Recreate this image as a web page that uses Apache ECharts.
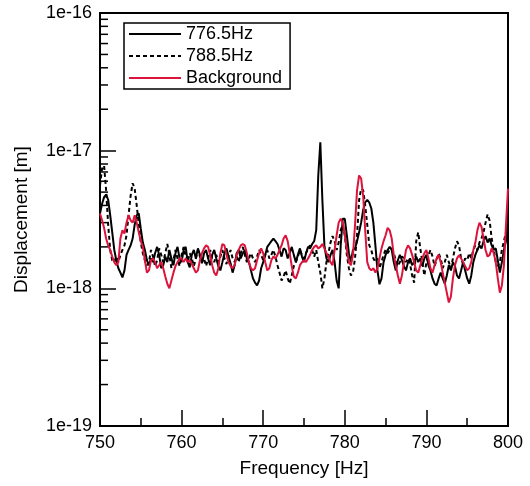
<!DOCTYPE html>
<html><head><meta charset="utf-8">
<script src="https://cdn.jsdelivr.net/npm/echarts@6/dist/echarts.min.js"></script>
<style>html,body{margin:0;padding:0;background:#fff}#c{width:530px;height:486px}</style>
</head><body><div id="c"></div>
<script>
// Frequency grid (Hz), 0.25 Hz spacing from 750 to 800
const F_START = 750, F_STEP = 0.25, F_COUNT = 201;
// Values in units of 1e-18 m
const UNIT = 1e-18;
const names = ['776.5Hz', '788.5Hz', 'Background'];
const sig776 = [
3.5,4.1,4.6,4.8,4.4,3.4,2.55,1.9,
1.6,1.4,1.3,1.2,1.35,1.75,1.9,2.05,
2.3,2.9,3.4,3.5,2.7,2.15,1.9,1.6,
1.47,1.65,1.55,1.8,2.0,1.75,1.4,1.47,
1.7,1.55,1.9,1.65,1.47,1.8,2.0,1.65,
1.55,1.9,2.0,1.55,1.42,1.75,1.9,1.65,
1.95,1.75,1.52,1.8,1.9,1.65,1.47,1.75,
1.9,1.65,1.45,1.35,1.55,1.8,1.95,1.7,
1.52,1.3,1.47,1.8,1.9,1.65,1.8,1.9,
1.65,1.55,1.35,1.18,1.1,1.05,1.14,1.4,
1.55,1.75,2.0,2.1,2.2,2.3,2.2,2.1,
1.9,1.7,1.95,1.9,1.65,1.8,2.0,1.75,
1.55,1.75,1.95,1.7,1.55,1.8,2.0,1.95,
2.1,2.2,2.65,6.6,11.5,4.4,2.05,1.65,
1.55,1.75,1.9,1.55,1.14,1.0,2.05,3.2,
3.2,2.43,1.8,1.55,1.9,1.95,2.2,2.55,
3.0,3.7,4.2,4.4,4.2,3.8,3.0,2.05,
1.35,1.07,1.18,1.55,1.75,1.9,2.0,1.9,
1.55,1.35,1.6,1.75,1.6,1.45,1.35,1.55,
1.65,1.47,1.55,1.7,1.55,1.65,1.45,1.65,
1.75,1.47,1.35,1.18,1.08,1.05,1.18,1.3,
1.18,1.08,1.24,1.47,1.35,1.55,1.45,1.24,
1.18,1.35,1.55,1.35,1.18,1.08,1.24,1.55,
1.75,1.9,2.05,1.95,2.2,2.4,2.15,2.3,
2.05,1.9,1.95,1.6,1.3,1.55,1.9,2.2,
3.3];
const sig788 = [
5.6,7.4,7.8,5.15,2.9,1.9,1.6,1.55,
1.7,1.55,1.75,1.9,2.05,2.43,3.4,4.7,
5.8,5.3,4.0,2.9,2.15,1.8,1.6,1.47,
1.55,1.9,1.7,1.45,1.6,1.95,1.75,1.55,
1.8,2.1,1.75,1.4,1.6,1.9,1.65,1.45,
1.75,2.0,1.7,1.55,1.8,1.65,1.45,1.65,
1.9,1.7,1.55,1.65,1.45,1.65,1.9,1.65,
1.55,1.75,1.55,1.7,1.9,1.65,1.5,1.7,
1.9,1.65,1.55,1.7,1.55,1.8,2.0,1.75,
1.55,1.65,1.8,1.65,1.55,1.7,1.9,1.75,
1.6,1.75,1.9,1.65,1.75,1.9,1.7,1.47,
1.3,1.14,1.22,1.35,1.18,1.08,1.24,1.45,
1.55,1.7,1.9,1.75,1.65,1.8,1.95,2.05,
1.9,1.7,1.9,1.55,1.3,1.0,1.18,1.55,
1.8,2.15,2.4,2.2,1.9,2.15,2.65,2.9,
2.43,1.75,1.4,1.24,1.3,1.65,2.43,4.36,
5.3,5.15,4.0,2.9,2.05,1.9,1.65,1.55,
1.65,1.4,1.55,1.75,1.9,1.8,1.9,1.95,
1.8,1.6,1.45,1.55,1.7,1.65,1.55,1.65,
1.5,1.24,1.1,2.2,2.55,1.95,1.55,1.24,
1.55,1.75,1.9,1.7,1.45,1.6,1.8,1.65,
1.4,1.55,1.75,1.55,1.4,1.65,1.95,2.2,
2.05,1.65,1.5,1.65,1.6,1.8,1.65,1.9,
2.05,1.9,2.15,2.3,2.55,3.0,3.45,3.1,
2.3,1.9,1.55,1.45,1.55,1.9,2.2,2.55,
2.43];
const background = [
3.5,3.12,2.75,2.3,2.05,1.9,1.7,1.55,
1.47,1.55,2.3,2.64,2.5,3.0,3.4,3.12,
3.0,3.4,3.0,2.55,2.2,2.0,1.6,1.3,
1.35,1.6,1.65,1.55,1.4,1.47,1.55,1.4,
1.22,1.08,1.0,1.14,1.3,1.45,1.55,1.65,
1.65,1.55,1.65,1.55,1.6,1.5,1.4,1.3,
1.35,1.6,1.8,1.95,2.05,2.0,1.75,1.47,
1.3,1.24,1.4,1.8,2.1,2.05,1.75,1.55,
1.45,1.4,1.47,1.75,1.9,2.05,2.1,2.05,
1.8,1.55,1.4,1.35,1.4,1.6,1.8,1.95,
1.8,1.55,1.35,1.4,1.6,1.7,1.65,1.75,
1.9,2.05,2.3,2.43,2.2,1.8,1.45,1.22,
1.18,1.3,1.47,1.55,1.6,1.55,1.65,1.75,
1.9,2.0,2.05,1.95,2.0,2.1,1.95,1.8,
1.7,1.55,1.47,1.9,2.43,3.0,3.2,3.0,
2.43,1.9,1.55,1.47,1.75,2.87,5.15,6.6,
6.3,4.7,2.64,1.55,1.4,1.35,1.4,1.3,
1.4,1.65,1.95,2.2,2.43,2.75,2.64,2.3,
1.75,1.47,1.24,1.08,1.24,1.55,1.9,2.05,
1.95,1.75,1.55,1.35,1.3,1.47,1.65,1.8,
1.9,1.65,1.4,1.3,1.47,1.65,1.75,1.55,
1.3,1.1,0.93,0.79,0.87,1.18,1.47,1.65,
1.74,1.65,1.55,1.45,1.35,1.4,1.55,1.9,
2.15,2.64,3.0,2.8,2.3,1.9,1.7,1.75,
1.95,1.8,1.55,1.18,0.93,1.05,1.47,2.87,
5.3];
const xTicks = [750, 760, 770, 780, 790, 800];
const yDecades = [-19, -18, -17, -16];

const FONT = "'Liberation Sans', Arial, Helvetica, sans-serif";
const freq = [];
for (let i = 0; i < F_COUNT; i++) freq.push(F_START + F_STEP * i);
const toPairs = arr => arr.map((v, i) => [freq[i], v * UNIT]);

// minor log ticks 2..9 in each decade
const minorTickVals = [];
for (let d = 0; d < yDecades.length - 1; d++) {
  for (let m = 2; m <= 9; m++) minorTickVals.push([F_START, m * Math.pow(10, yDecades[d])]);
}

const chart = echarts.init(document.getElementById('c'), null, {renderer: 'canvas'});
const lineW = 2;
chart.setOption({
  animation: false,
  backgroundColor: '#fff',
  textStyle: {fontFamily: FONT},
  grid: {left: 100, top: 13, width: 408, height: 413, show: true, borderColor: '#000', borderWidth: 2, backgroundColor: 'transparent'},
  legend: {
    data: names, orient: 'vertical', left: 124, top: 23,
    itemWidth: 52, itemHeight: 14, itemGap: 4,
    itemStyle: {opacity: 0},
    borderColor: '#000', borderWidth: 1.5, padding: [2, 8, 2, 4],
    textStyle: {fontSize: 18, color: '#000', fontFamily: FONT},
    backgroundColor: '#fff'
  },
  xAxis: {
    type: 'value', min: xTicks[0], max: xTicks[xTicks.length - 1], interval: 10,
    name: 'Frequency [Hz]', nameLocation: 'middle', nameGap: 33,
    nameTextStyle: {fontSize: 19, color: '#000', fontFamily: FONT},
    axisLine: {show: true, onZero: false, lineStyle: {color: '#000', width: 2}},
    axisTick: {show: true, inside: true, length: 16, lineStyle: {color: '#000', width: 1.5}},
    minorTick: {show: true, splitNumber: 2, length: 8, lineStyle: {color: '#000', width: 1.5}},
    axisLabel: {fontSize: 18, color: '#000', margin: 8, fontFamily: FONT},
    splitLine: {show: false}
  },
  yAxis: {
    type: 'log', logBase: 10, min: Math.pow(10, yDecades[0]), max: Math.pow(10, yDecades[yDecades.length - 1]),
    splitNumber: 3,
    name: 'Displacement [m]', nameLocation: 'middle', nameGap: 69, nameRotate: 90,
    nameTextStyle: {fontSize: 19, color: '#000', fontFamily: FONT},
    axisLine: {show: true, lineStyle: {color: '#000', width: 2}},
    axisTick: {show: true, inside: true, length: 16, lineStyle: {color: '#000', width: 1.5}},
    axisLabel: {fontSize: 18, color: '#000', margin: 8, fontFamily: FONT,
      formatter: v => '1e' + Math.round(Math.log10(v))},
    splitLine: {show: false}
  },
  series: [
    {name: names[0], type: 'line', data: toPairs(sig776), symbol: 'none', showSymbol: false,
     lineStyle: {color: '#000', width: lineW}, itemStyle: {color: '#000'}},
    {name: names[1], type: 'line', data: toPairs(sig788), symbol: 'none', showSymbol: false,
     lineStyle: {color: '#000', width: lineW, type: [4, 3]}, itemStyle: {color: '#000'}},
    {name: names[2], type: 'line', data: toPairs(background), symbol: 'none', showSymbol: false,
     lineStyle: {color: '#dc143c', width: lineW}, itemStyle: {color: '#dc143c'}},
    {type: 'custom', silent: true, clip: false, data: minorTickVals, encode: {x: 0, y: 1},
     renderItem: (params, api) => {
       const p = api.coord([api.value(0), api.value(1)]);
       return {type: 'line', shape: {x1: p[0], y1: p[1], x2: p[0] + 8, y2: p[1]},
               style: {stroke: '#000', lineWidth: 1.5}};
     }}
  ]
});
</script></body></html>
